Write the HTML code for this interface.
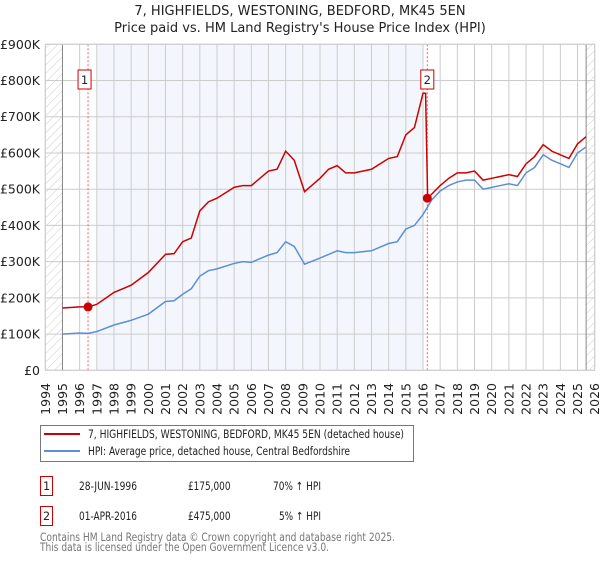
<!DOCTYPE html>
<html><head><meta charset="utf-8"><style>
body{margin:0;background:#fff;font-family:"DejaVu Sans","Liberation Sans",sans-serif;}
svg text{font-family:"DejaVu Sans","Liberation Sans",sans-serif;}
</style></head><body>
<svg id="c" width="600" height="560" xmlns="http://www.w3.org/2000/svg">
<defs><pattern id="h" width="6" height="6" patternUnits="userSpaceOnUse" patternTransform="rotate(45)"><line x1="0" y1="0" x2="0" y2="6" stroke="#ccc" stroke-width="1"/></pattern></defs>
<text x="300" y="15" text-anchor="middle" font-size="13" fill="#222">7, HIGHFIELDS, WESTONING, BEDFORD, MK45 5EN</text>
<text x="300" y="32" text-anchor="middle" font-size="13" fill="#222">Price paid vs. HM Land Registry's House Price Index (HPI)</text>
<g id="plot"></g>
<g>
<rect x="40.5" y="425.5" width="373" height="36" fill="#fff" stroke="#777"/>
<line x1="44" y1="434" x2="80" y2="434" stroke="#cc0000" stroke-width="2"/>
<text x="88" y="438" font-size="11.2" fill="#222" textLength="316" lengthAdjust="spacingAndGlyphs">7, HIGHFIELDS, WESTONING, BEDFORD, MK45 5EN (detached house)</text>
<line x1="44" y1="451" x2="80" y2="451" stroke="#5b8fd4" stroke-width="2"/>
<text x="88" y="455" font-size="11.2" fill="#222" textLength="262" lengthAdjust="spacingAndGlyphs">HPI: Average price, detached house, Central Bedfordshire</text>
</g>
<g font-size="11.2" fill="#222">
<rect x="40.5" y="476.5" width="12" height="19" fill="#fff" stroke="#cc0000"/><text x="46.5" y="490" text-anchor="middle">1</text>
<text x="79" y="490" textLength="58" lengthAdjust="spacingAndGlyphs">28-JUN-1996</text><text x="188" y="490" textLength="42.5" lengthAdjust="spacingAndGlyphs">£175,000</text><text x="273" y="490" textLength="48" lengthAdjust="spacingAndGlyphs">70% ↑ HPI</text>
<rect x="40.5" y="506.5" width="12" height="19" fill="#fff" stroke="#cc0000"/><text x="46.5" y="520" text-anchor="middle">2</text>
<text x="79" y="520" textLength="58" lengthAdjust="spacingAndGlyphs">01-APR-2016</text><text x="188" y="520" textLength="42.5" lengthAdjust="spacingAndGlyphs">£475,000</text><text x="279" y="520" textLength="42" lengthAdjust="spacingAndGlyphs">5% ↑ HPI</text>
</g>
<text x="40" y="541" font-size="11.2" fill="#777" textLength="355" lengthAdjust="spacingAndGlyphs">Contains HM Land Registry data © Crown copyright and database right 2025.</text>
<text x="40" y="551" font-size="11.2" fill="#777" textLength="289" lengthAdjust="spacingAndGlyphs">This data is licensed under the Open Government Licence v3.0.</text>
</svg>
<script>
const years=[1994,1995,1996,1997,1998,1999,2000,2001,2002,2003,2004,2005,2006,2007,2008,2009,2010,2011,2012,2013,2014,2015,2016,2017,2018,2019,2020,2021,2022,2023,2024,2025,2026];
const yTicks=[0,100,200,300,400,500,600,700,800,900];
const yLabels=["£0","£100K","£200K","£300K","£400K","£500K","£600K","£700K","£800K","£900K"];
const hpiT=[1995,1996,1996.5,1997,1998,1999,2000,2001,2001.5,2002,2002.5,2003,2003.5,2004,2005,2005.5,2006,2007,2007.5,2008,2008.5,2009.1,2010,2010.5,2011,2011.5,2012,2013,2014,2014.5,2015,2015.5,2016,2016.5,2017,2017.5,2018,2018.5,2019,2019.5,2020,2020.5,2021,2021.5,2022,2022.5,2023,2023.5,2024,2024.5,2025,2025.5];
const hpiV=[100,103,102,107,125,138,155,190,192,210,225,260,275,280,295,300,298,318,325,355,342,293,310,320,330,325,325,330,350,355,390,400,430,470,495,510,520,525,525,500,505,510,515,510,545,560,595,580,570,560,600,617];
const paidT=[1995,1996,1996.5,1997,1998,1999,2000,2001,2001.5,2002,2002.5,2003,2003.5,2004,2005,2005.5,2006,2007,2007.5,2008,2008.5,2009.1,2010,2010.5,2011,2011.5,2012,2013,2014,2014.5,2015,2015.5,2016,2016.15,2016.27,2017,2017.5,2018,2018.5,2019,2019.5,2020,2020.5,2021,2021.5,2022,2022.5,2023,2023.5,2024,2024.5,2025,2025.5];
const paidV=[172,175,175,182,215,235,270,320,322,355,365,440,465,475,505,510,510,550,555,605,580,493,530,555,565,545,545,555,585,590,650,670,765,765,475,510,530,545,545,550,525,530,535,540,535,570,590,623,605,595,585,625,645];
const saleT=[1996.49,2016.25];
const saleV=[175,475];
const saleLabels=["1","2"];
const X0=45.3,X1=594.7,Y0=370.3,Y1=44.3;
const xs=t=>X0+(t-1994)/(2026-1994)*(X1-X0);
const ys=v=>Y0-v/900*(Y0-Y1);
const NS="http://www.w3.org/2000/svg";
const g=document.getElementById('plot');
function mk(tag,a,p){const e=document.createElementNS(NS,tag);for(const k in a)e.setAttribute(k,a[k]);(p||g).appendChild(e);return e;}
let e;
e=mk('rect',{x:xs(1997),y:Y1,width:xs(2016)-xs(1997),height:Y0-Y1,fill:'#eef3fc',opacity:0.7});


e=mk('rect',{x:X0,y:Y1,width:xs(1995)-X0,height:Y0-Y1,fill:'url(#h)'});


e=mk('rect',{x:xs(2025.5),y:Y1,width:X1-xs(2025.5),height:Y0-Y1,fill:'url(#h)'});


years.forEach(y=>{const x=xs(y);
 e=mk('line',{x1:x,x2:x,y1:Y1,y2:Y0,stroke:'#ccc','stroke-width':1});
 
 
 e=mk('text',{x:0,y:0,transform:`translate(${x+4.5},383) rotate(-90)`,'text-anchor':'end','font-size':12.5,fill:'#222'});
 e.textContent=y;
 
 
});
yTicks.forEach((v,i)=>{const y=ys(v);
 e=mk('line',{x1:X0,x2:X1,y1:y,y2:y,stroke:'#ccc','stroke-width':1});
 
 
 e=mk('text',{x:40,y:y+4.5,'text-anchor':'end','font-size':12.5,fill:'#222'});
 e.textContent=yLabels[i];
 
 
});
e=mk('line',{x1:xs(1995),x2:xs(1995),y1:Y1,y2:Y0,stroke:'#888'});


e=mk('line',{x1:xs(2025.5),x2:xs(2025.5),y1:Y1,y2:Y0,stroke:'#888'});


saleT.forEach(t=>{
 e=mk('line',{x1:xs(t),x2:xs(t),y1:Y1,y2:Y0,stroke:'#f06060','stroke-dasharray':'2,2'});
 
 
});
e=mk('polyline',{points:hpiT.map((t,i)=>xs(t)+','+ys(hpiV[i])).join(' '),fill:'none',stroke:'#5b8fd4','stroke-width':1.5});


e=mk('polyline',{points:paidT.map((t,i)=>xs(t)+','+ys(paidV[i])).join(' '),fill:'none',stroke:'#cc0000','stroke-width':1.5});


saleT.forEach((t,i)=>{
 e=mk('circle',{cx:xs(t),cy:ys(saleV[i]),r:4.5,fill:'#cc0000'});
 
 
 const bx=xs(t)-(i==0?3.5:0)-6.5;
 e=mk('rect',{x:bx,y:70,width:13,height:19,fill:'#fff',stroke:'#cc0000'});
 
 
 e=mk('text',{x:bx+6.5,y:84,'text-anchor':'middle','font-size':11.5,fill:'#222'});
 e.textContent=saleLabels[i];
 
 
});
e=mk('rect',{x:X0,y:Y1,width:X1-X0,height:Y0-Y1,fill:'none',stroke:'#ccc'});


</script>
</body></html>
